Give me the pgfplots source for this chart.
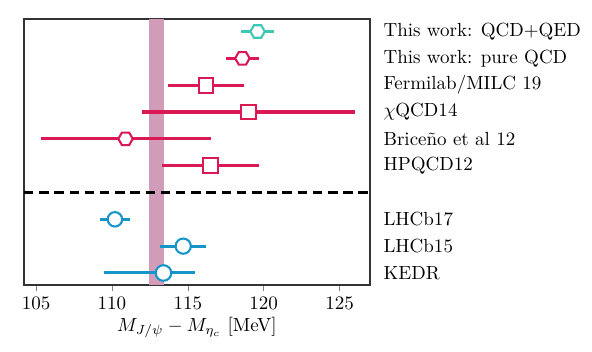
\documentclass[border=0pt]{standalone}
\usepackage{pgfplots}
\pgfplotsset{compat=1.18}

\definecolor{tealc}{RGB}{60,200,180}
\definecolor{crim}{RGB}{218,24,84}
\definecolor{bluec}{RGB}{22,150,200}
\definecolor{bandc}{RGB}{208,156,184}

% open hexagon, flat top and bottom
\pgfdeclareplotmark{hexagon*}{%
  \pgfpathmoveto{\pgfqpointpolar{0}{\pgfplotmarksize}}%
  \pgfpathlineto{\pgfqpointpolar{60}{\pgfplotmarksize}}%
  \pgfpathlineto{\pgfqpointpolar{120}{\pgfplotmarksize}}%
  \pgfpathlineto{\pgfqpointpolar{180}{\pgfplotmarksize}}%
  \pgfpathlineto{\pgfqpointpolar{240}{\pgfplotmarksize}}%
  \pgfpathlineto{\pgfqpointpolar{300}{\pgfplotmarksize}}%
  \pgfpathclose
  \pgfusepathqfillstroke}

\pgfplotsset{
  res/.style={only marks, mark options={solid, fill=white, line width=1.1pt},
    error bars/x dir=both, error bars/x explicit,
    error bars/error mark=none,
    error bars/error bar style={line width=1.6pt}},
}
\tikzset{lab/.style={anchor=west, inner sep=0pt, xshift=7pt}}

\begin{document}
\begin{tikzpicture}
\begin{axis}[
    scale only axis,
    width=182pt, height=140pt,
    xmin=104.2, xmax=127,
    ymin=-0.45, ymax=9.47,
    xtick={105,110,115,120,125},
    ytick=\empty,
    tick align=outside,
    major tick length=3pt,
    xtick pos=bottom,
    axis line style={black!80, line width=0.7pt},
    xlabel={$M_{J/\psi} - M_{\eta_c}$ [MeV]},
    xlabel style={yshift=3pt},
    clip=false,
]
% experimental band
\addplot[draw=none, fill=bandc, mark=none, forget plot]
  coordinates {(112.47,-0.45) (113.46,-0.45) (113.46,9.47) (112.47,9.47)} -- cycle;
% separator
\addplot[black, line width=1.5pt, mark=none, dash pattern=on 5pt off 3pt]
  coordinates {(104.2,3) (127,3)};

% lattice results
\addplot[res, tealc, mark=hexagon*, mark size=3.8pt]
  coordinates {(119.6,9) +- (1.1,0)};
\addplot[res, crim, mark=hexagon*, mark size=3.8pt]
  coordinates {(118.6,8) +- (1.1,0)};
\addplot[res, crim, mark=square*, mark size=3.9pt]
  coordinates {(116.2,7) +- (2.5,0)};
\addplot[res, crim, mark=square*, mark size=3.9pt]
  coordinates {(119.0,6) +- (7.0,0)};
\addplot[res, crim, mark=hexagon*, mark size=3.8pt]
  coordinates {(110.9,5) +- (5.6,0)};
\addplot[res, crim, mark=square*, mark size=3.9pt]
  coordinates {(116.5,4) +- (3.2,0)};

% experiments
\addplot[res, bluec, mark=*, mark size=3.8pt]
  coordinates {(110.2,2) +- (1.0,0)};
\addplot[res, bluec, mark=*, mark size=4pt]
  coordinates {(114.7,1) +- (1.5,0)};
\addplot[res, bluec, mark=*, mark size=4.1pt]
  coordinates {(113.4,0) += (2.1,0) -= (3.9,0)};

% labels on the right
\node[lab] at (axis cs:127,9) {This work: QCD+QED};
\node[lab] at (axis cs:127,8) {This work: pure QCD};
\node[lab] at (axis cs:127,7) {Fermilab/MILC 19};
\node[lab] at (axis cs:127,6) {$\chi$QCD14};
\node[lab] at (axis cs:127,5) {Brice\~no et al 12};
\node[lab] at (axis cs:127,4) {HPQCD12};
\node[lab] at (axis cs:127,2) {LHCb17};
\node[lab] at (axis cs:127,1) {LHCb15};
\node[lab] at (axis cs:127,0) {KEDR};
\coordinate (bl) at (rel axis cs:-0.069,-0.248);
\coordinate (tr) at (rel axis cs:1.642,1.071);
\end{axis}
\path (bl) rectangle (tr);
\end{tikzpicture}
\end{document}
